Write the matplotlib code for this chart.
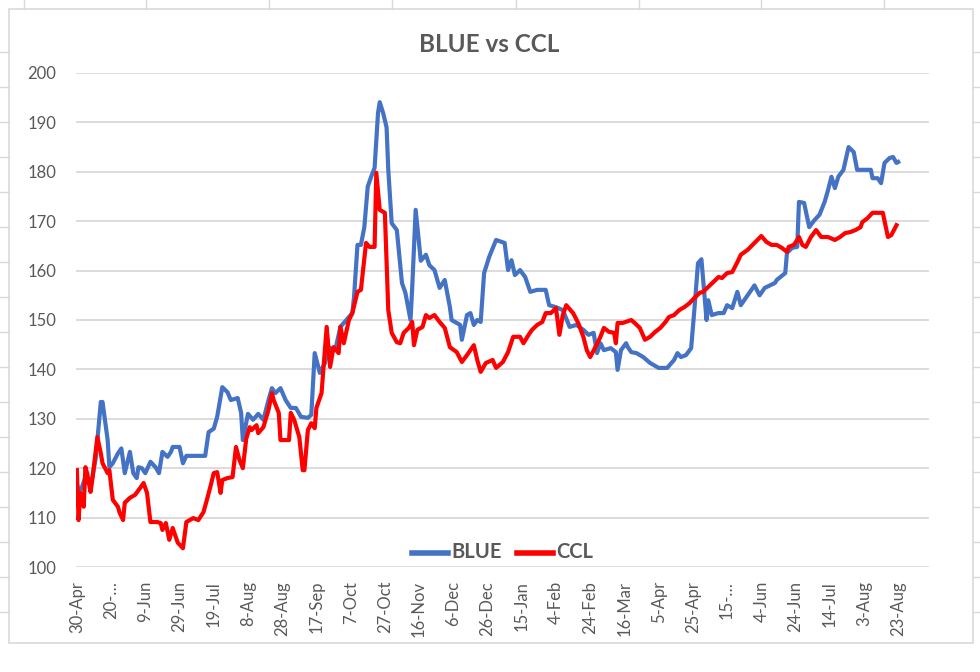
import matplotlib
matplotlib.use('Agg')
import matplotlib.pyplot as plt
from matplotlib.lines import Line2D
from matplotlib.patches import Rectangle
import pandas as pd

plt.rcParams['font.family'] = ['Lato', 'DejaVu Sans']

# BLUE series (date, value)
blue_dates = [
    '2020-04-30', '2020-05-01', '2020-05-03', '2020-05-05', '2020-05-06', '2020-05-09', '2020-05-11',
    '2020-05-12', '2020-05-14', '2020-05-15', '2020-05-18', '2020-05-19', '2020-05-21', '2020-05-24',
    '2020-05-26', '2020-05-28', '2020-05-31', '2020-06-02', '2020-06-04', '2020-06-05', '2020-06-07',
    '2020-06-09', '2020-06-12', '2020-06-15', '2020-06-17', '2020-06-19', '2020-06-22', '2020-06-24',
    '2020-06-25', '2020-06-29', '2020-07-01', '2020-07-03', '2020-07-14', '2020-07-16', '2020-07-19',
    '2020-07-21', '2020-07-24', '2020-07-27', '2020-07-29', '2020-08-02', '2020-08-04', '2020-08-05',
    '2020-08-08', '2020-08-11', '2020-08-14', '2020-08-17', '2020-08-20', '2020-08-22', '2020-08-24',
    '2020-08-27', '2020-08-30', '2020-09-02', '2020-09-05', '2020-09-08', '2020-09-12', '2020-09-14',
    '2020-09-16', '2020-09-19', '2020-09-22', '2020-09-24', '2020-09-28', '2020-10-01', '2020-10-03',
    '2020-10-08', '2020-10-09', '2020-10-11', '2020-10-13', '2020-10-15', '2020-10-17', '2020-10-19',
    '2020-10-21', '2020-10-23', '2020-10-24', '2020-10-26', '2020-10-28', '2020-10-29', '2020-10-31',
    '2020-11-03', '2020-11-06', '2020-11-08', '2020-11-11', '2020-11-12', '2020-11-14', '2020-11-17',
    '2020-11-20', '2020-11-22', '2020-11-25', '2020-11-28', '2020-12-01', '2020-12-04', '2020-12-05',
    '2020-12-10', '2020-12-11', '2020-12-14', '2020-12-16', '2020-12-18', '2020-12-20', '2020-12-22',
    '2020-12-24', '2020-12-27', '2020-12-31', '2021-01-05', '2021-01-07', '2021-01-09', '2021-01-11',
    '2021-01-14', '2021-01-17', '2021-01-20', '2021-01-24', '2021-01-29', '2021-01-31', '2021-02-04',
    '2021-02-08', '2021-02-12', '2021-02-16', '2021-02-20', '2021-02-23', '2021-02-26', '2021-02-28',
    '2021-03-02', '2021-03-04', '2021-03-08', '2021-03-11', '2021-03-12', '2021-03-14', '2021-03-17',
    '2021-03-18', '2021-03-20', '2021-03-23', '2021-03-27', '2021-03-31', '2021-04-05', '2021-04-10',
    '2021-04-14', '2021-04-16', '2021-04-18', '2021-04-21', '2021-04-24', '2021-04-26', '2021-04-28',
    '2021-04-30', '2021-05-03', '2021-05-04', '2021-05-06', '2021-05-10', '2021-05-13', '2021-05-15',
    '2021-05-18', '2021-05-21', '2021-05-23', '2021-05-27', '2021-05-31', '2021-06-03', '2021-06-06',
    '2021-06-09', '2021-06-12', '2021-06-13', '2021-06-18', '2021-06-19', '2021-06-22', '2021-06-25',
    '2021-06-26', '2021-06-29', '2021-07-02', '2021-07-05', '2021-07-08', '2021-07-11', '2021-07-13',
    '2021-07-15', '2021-07-17', '2021-07-19', '2021-07-22', '2021-07-25', '2021-07-28', '2021-07-30',
    '2021-08-04', '2021-08-07', '2021-08-08', '2021-08-11', '2021-08-13', '2021-08-15', '2021-08-18',
    '2021-08-20', '2021-08-22', '2021-08-23',
]
blue_values = [
    117, 115, 116.2, 118.2, 117, 118, 122,
    125.7, 133.4, 133.4, 125.7, 120.2, 121, 123,
    124, 119, 123.3, 119, 118, 120.2, 120,
    119, 121.3, 120.2, 119, 123.3, 122.3, 123.3,
    124.3, 124.3, 121, 122.5, 122.5, 127.3, 128,
    130.4, 136.4, 135.4, 133.8, 134.2, 131.2, 125.7,
    131, 129.8, 131, 129.8, 133.8, 136.2, 135.2,
    136.2, 133.8, 132.2, 132.2, 130.4, 130.2, 130.8,
    143.3, 139.3, 141.3, 144.5, 143.9, 148.6, 149.4,
    151.4, 154.7, 165.2, 165.2, 168.8, 177, 179,
    180.8, 191.9, 194.1, 191.9, 189, 180.4, 169.6,
    168.2, 157.5, 155.5, 150, 156.7, 172.3, 162,
    163.2, 161.1, 160.1, 156.5, 158.1, 152.6, 150,
    149, 146, 151, 151.4, 149, 150, 149.6,
    159.5, 162.8, 166.2, 165.6, 160.1, 162.1, 159.1,
    160.1, 158.7, 155.7, 156.1, 156.1, 153, 152.6,
    152, 148.6, 149, 148, 147, 147.4, 143.3,
    145.3, 143.9, 144.3, 143.5, 139.9, 143.9, 145.3,
    144.5, 143.5, 143.3, 142.5, 141.3, 140.3, 140.3,
    141.9, 143.3, 142.5, 142.9, 144.3, 152.6, 161.5,
    162.3, 150, 154, 151, 151.4, 151.4, 153,
    152.4, 155.7, 153, 155, 157, 155, 156.5,
    157, 157.5, 158.1, 159.5, 163.6, 164.6, 164.8,
    173.9, 173.7, 168.8, 170.2, 171.3, 173.9, 176.3,
    179, 176.7, 179, 180.4, 185, 184, 180.4,
    180.4, 180.4, 178.7, 178.7, 177.7, 181.8, 182.8,
    183, 181.8, 182,
]

# CCL series (date, value)
ccl_dates = [
    '2020-04-30', '2020-05-01', '2020-05-02', '2020-05-03', '2020-05-04', '2020-05-05', '2020-05-06',
    '2020-05-08', '2020-05-09', '2020-05-12', '2020-05-14', '2020-05-15', '2020-05-18', '2020-05-19',
    '2020-05-21', '2020-05-24', '2020-05-25', '2020-05-27', '2020-05-28', '2020-05-31', '2020-06-03',
    '2020-06-06', '2020-06-08', '2020-06-10', '2020-06-12', '2020-06-16', '2020-06-18', '2020-06-19',
    '2020-06-21', '2020-06-23', '2020-06-25', '2020-06-27', '2020-06-28', '2020-07-01', '2020-07-03',
    '2020-07-07', '2020-07-10', '2020-07-13', '2020-07-15', '2020-07-17', '2020-07-19', '2020-07-21',
    '2020-07-23', '2020-07-24', '2020-07-27', '2020-07-30', '2020-08-01', '2020-08-03', '2020-08-05',
    '2020-08-07', '2020-08-09', '2020-08-10', '2020-08-13', '2020-08-14', '2020-08-17', '2020-08-20',
    '2020-08-22', '2020-08-23', '2020-08-26', '2020-08-27', '2020-09-01', '2020-09-02', '2020-09-04',
    '2020-09-07', '2020-09-09', '2020-09-10', '2020-09-12', '2020-09-14', '2020-09-16', '2020-09-17',
    '2020-09-20', '2020-09-23', '2020-09-25', '2020-09-27', '2020-09-30', '2020-10-01', '2020-10-03',
    '2020-10-06', '2020-10-08', '2020-10-11', '2020-10-13', '2020-10-16', '2020-10-18', '2020-10-21',
    '2020-10-22', '2020-10-24', '2020-10-27', '2020-10-29', '2020-10-31', '2020-11-03', '2020-11-05',
    '2020-11-07', '2020-11-10', '2020-11-12', '2020-11-13', '2020-11-15', '2020-11-18', '2020-11-20',
    '2020-11-22', '2020-11-25', '2020-11-28', '2020-12-01', '2020-12-04', '2020-12-08', '2020-12-11',
    '2020-12-14', '2020-12-18', '2020-12-20', '2020-12-22', '2020-12-25', '2020-12-29', '2020-12-31',
    '2021-01-04', '2021-01-07', '2021-01-10', '2021-01-14', '2021-01-16', '2021-01-19', '2021-01-21',
    '2021-01-24', '2021-01-27', '2021-01-29', '2021-02-01', '2021-02-04', '2021-02-06', '2021-02-08',
    '2021-02-10', '2021-02-14', '2021-02-17', '2021-02-20', '2021-02-22', '2021-02-24', '2021-02-27',
    '2021-03-02', '2021-03-04', '2021-03-07', '2021-03-10', '2021-03-11', '2021-03-12', '2021-03-15',
    '2021-03-20', '2021-03-22', '2021-03-25', '2021-03-28', '2021-03-31', '2021-04-03', '2021-04-06',
    '2021-04-09', '2021-04-11', '2021-04-14', '2021-04-17', '2021-04-20', '2021-04-23', '2021-04-26',
    '2021-04-29', '2021-05-01', '2021-05-04', '2021-05-07', '2021-05-10', '2021-05-12', '2021-05-15',
    '2021-05-18', '2021-05-21', '2021-05-23', '2021-05-27', '2021-05-31', '2021-06-04', '2021-06-07',
    '2021-06-10', '2021-06-13', '2021-06-16', '2021-06-19', '2021-06-20', '2021-06-23', '2021-06-25',
    '2021-06-26', '2021-06-28', '2021-06-30', '2021-07-03', '2021-07-06', '2021-07-09', '2021-07-13',
    '2021-07-17', '2021-07-20', '2021-07-23', '2021-07-26', '2021-07-29', '2021-08-01', '2021-08-02',
    '2021-08-05', '2021-08-08', '2021-08-11', '2021-08-14', '2021-08-17', '2021-08-19', '2021-08-22',
]
ccl_values = [
    119.6, 109.5, 115, 114, 112.2, 120.2, 119,
    115.2, 117.6, 126.3, 123, 121, 119, 119.6,
    113.6, 112.2, 111, 109.5, 113, 114, 114.6,
    116, 117, 115, 109.1, 109.1, 108.9, 107.5,
    108.9, 105.5, 107.9, 105.9, 104.9, 103.8, 109.1,
    109.9, 109.5, 111.1, 113.6, 116.2, 119, 119.2,
    115, 117.6, 118, 118.2, 124.3, 121.7, 120,
    126, 128.3, 127.7, 128.7, 127.1, 128.3, 131.8,
    135.2, 133.8, 131.2, 125.7, 125.7, 131.2, 129.8,
    126.3, 119.6, 119.6, 127.7, 129.1, 128.1, 132.2,
    135.2, 148.6, 140.5, 144.5, 143.3, 148.6, 145.3,
    150, 151.4, 155.7, 156.1, 165.6, 164.8, 164.8,
    179.8, 172.3, 171.7, 152, 147.4, 145.5, 145.3,
    147.4, 148.4, 149.6, 144.9, 148, 148.6, 151,
    150.4, 151, 149.6, 148.4, 144.5, 143.5, 141.5,
    142.9, 144.9, 141.9, 139.5, 141.3, 141.9, 140.3,
    141.5, 143.5, 146.6, 146.6, 145.3, 147, 148,
    149, 149.6, 151.4, 151.4, 152.4, 147, 151,
    153, 151.4, 149.4, 146.6, 143.9, 142.5, 144.5,
    146.6, 148.4, 147.6, 147.4, 145.3, 149.4, 149.4,
    150, 149.4, 148.4, 146, 146.6, 147.6, 148.4,
    149.6, 150.6, 151, 152, 152.6, 153.4, 154.5,
    155.5, 155.7, 156.7, 157.7, 158.7, 158.5, 159.5,
    159.7, 161.7, 163.2, 164.2, 165.6, 167, 165.8,
    165.2, 165.2, 164.6, 163.8, 164.8, 165.2, 166.2,
    166.8, 165.2, 164.8, 166.8, 168.2, 166.8, 166.8,
    166.2, 166.8, 167.6, 167.8, 168.2, 168.8, 169.8,
    170.6, 171.7, 171.7, 171.7, 166.8, 167.2, 169.2,
]

tick_dates = pd.date_range('2020-04-30', '2021-08-23', freq='20D')
tick_labels = ['30-Apr', '20-…', '9-Jun', '29-Jun', '19-Jul', '8-Aug', '28-Aug', '17-Sep',
               '7-Oct', '27-Oct', '16-Nov', '6-Dec', '26-Dec', '15-Jan', '4-Feb', '24-Feb',
               '16-Mar', '5-Apr', '25-Apr', '15-…', '4-Jun', '24-Jun', '14-Jul', '3-Aug', '23-Aug']
y_ticks = list(range(100, 201, 10))

TEXT = '#595959'
GRID = '#d9d9d9'
BLUE = '#4472c4'
RED = '#ff0000'

W, H = 980, 672
fig = plt.figure(figsize=(W / 100, H / 100), dpi=100)
fig.patch.set_facecolor('white')

# spreadsheet cells around the chart object
for x in [24, 146, 269, 392, 516, 639, 761, 884]:
    fig.add_artist(Line2D([x / W, x / W], [1, 1 - 9 / H], color=GRID, lw=1))
for y in range(52, 620, 35):
    fig.add_artist(Line2D([0, 9 / W], [1 - y / H, 1 - y / H], color=GRID, lw=1))
    fig.add_artist(Line2D([973 / W, 1], [1 - y / H, 1 - y / H], color=GRID, lw=1))
fig.add_artist(Rectangle((9 / W, 1 - 643 / H), 964 / W, 634 / H, fill=False,
                         edgecolor=GRID, lw=1.2))

ax = fig.add_axes([76 / W, 105 / H, 853 / W, 494 / H])
ax.plot(pd.to_datetime(blue_dates), blue_values, color=BLUE, lw=3.0, label='BLUE',
        solid_joinstyle='round')
ax.plot(pd.to_datetime(ccl_dates), ccl_values, color=RED, lw=3.0, label='CCL',
        solid_joinstyle='round')

ax.set_ylim(100, 200)
ax.set_yticks(y_ticks)
ax.set_xlim(pd.Timestamp('2020-04-29 12:00'), pd.Timestamp('2021-09-10'))
ax.set_xticks(tick_dates)
ax.set_xticklabels(tick_labels, rotation=90)
ax.tick_params(axis='both', length=0, labelsize=12, labelcolor=TEXT)
ax.tick_params(axis='x', pad=10)
ax.tick_params(axis='y', pad=14)
for s in ax.spines.values():
    s.set_visible(False)
ax.grid(axis='y', color=GRID, lw=1.3)
ax.set_axisbelow(True)

fig.text(489 / W, 1 - 45 / H, 'BLUE vs CCL', ha='center', va='center',
         fontsize=17.5, fontweight='bold', color=TEXT)

leg = ax.legend(loc='lower center', bbox_to_anchor=(0.5, -0.015), ncol=2, frameon=False,
                handlelength=2.6, columnspacing=1.1, handletextpad=0.25)
for t in leg.get_texts():
    t.set_color(TEXT)
    t.set_fontweight('bold')
    t.set_fontsize(14.5)
for h in leg.get_lines():
    h.set_linewidth(4)

fig.savefig('out.png', dpi=100, facecolor='white')
